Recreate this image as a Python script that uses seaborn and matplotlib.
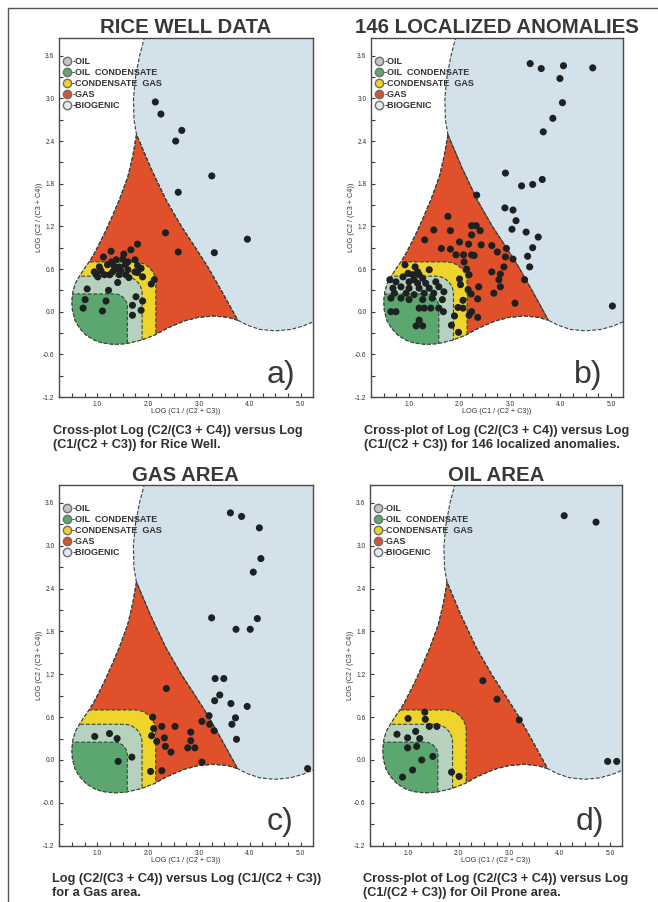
import numpy as np
import pandas as pd
import matplotlib
matplotlib.use("Agg")
import matplotlib.pyplot as plt
from matplotlib.patches import Polygon
from matplotlib.lines import Line2D
from matplotlib.ticker import MultipleLocator
import seaborn as sns

# ---------------- sample data: x = LOG(C1/(C2+C3)), y = LOG(C2/(C3+C4)) ----------------
rice_x = [2.14, 2.25, 2.66, 2.54, 3.25, 2.59, 2.34, 3.95, 2.59, 3.30,
          1.79, 1.66, 1.27, 1.52, 1.12, 1.37, 1.50, 1.74, 1.60, 1.79, 1.86,
          1.04, 1.20, 1.33, 1.43, 0.94, 1.07, 1.30, 1.46, 1.60, 1.01, 1.14,
          1.24, 1.43, 1.56, 1.74, 1.89, 1.40, 2.12, 2.06, 1.79,
          1.35, 1.55, 1.28, 1.62, 0.98,
          0.80, 1.22, 0.76, 1.17, 0.72, 1.10, 1.76, 1.89, 1.69, 1.86, 1.69]
rice_y = [2.95, 2.78, 2.55, 2.40, 1.91, 1.68, 1.11, 1.02, 0.84, 0.83,
          0.95, 0.87, 0.85, 0.81, 0.77, 0.73, 0.74, 0.73, 0.70, 0.65, 0.61,
          0.63, 0.66, 0.64, 0.63, 0.56, 0.58, 0.56, 0.58, 0.59, 0.49, 0.52,
          0.52, 0.52, 0.52, 0.56, 0.49, 0.41, 0.45, 0.39, 0.55,
          0.60, 0.66, 0.70, 0.48, 0.52,
          0.32, 0.30, 0.17, 0.15, 0.05, 0.01, 0.21, 0.15, 0.09, 0.02, -0.05]

anom_x = [3.40, 3.62, 4.06, 4.64, 3.99, 4.04, 3.85, 3.66,
          2.91, 3.23, 3.45, 3.64, 2.90, 3.06, 3.12, 3.04, 3.32, 3.56, 3.45, 3.35, 3.39, 3.29, 5.03,
          2.64, 2.75, 2.93, 2.91, 3.06, 2.88, 2.64, 2.81, 2.78, 2.81, 2.68, 3.10,
          2.34, 1.77, 1.49, 1.82, 1.31, 2.24, 2.33, 2.41, 2.24, 2.00, 2.18, 2.43,
          1.64, 1.82, 1.93, 2.08, 2.24, 2.29, 2.09, 2.14, 2.19, 2.00, 2.02, 2.17,
          2.38, 2.23, 2.36, 2.07, 1.97, 2.07, 2.24, 2.19, 2.36, 1.90, 1.84, 1.98,
          0.92, 1.12, 0.98, 1.40, 1.17, 0.88, 1.07, 1.20, 1.27, 1.10, 1.00, 1.17,
          1.33, 1.53, 0.74, 0.84, 0.68, 1.00, 1.20, 1.40, 1.59, 0.71, 0.94, 1.10,
          1.30, 1.49, 1.69, 0.64, 0.84, 1.00, 1.27, 1.46, 1.66, 0.64, 0.74, 1.20,
          1.30, 1.43, 1.59, 1.20, 1.27, 1.14, 0.62, 1.68]
anom_y = [3.49, 3.42, 3.46, 3.43, 3.28, 2.94, 2.72, 2.53,
          1.95, 1.77, 1.79, 1.86, 1.46, 1.43, 1.28, 1.16, 1.12, 1.05, 0.90, 0.78, 0.63, 0.45, 0.08,
          0.93, 0.84, 0.89, 0.77, 0.74, 0.63, 0.56, 0.53, 0.45, 0.35, 0.26, 0.12,
          1.64, 1.34, 1.15, 1.14, 1.01, 1.21, 1.21, 1.14, 1.08, 0.98, 0.95, 0.94,
          0.89, 0.88, 0.80, 0.80, 0.80, 0.79, 0.70, 0.60, 0.52, 0.46, 0.38, 0.31,
          0.35, 0.25, 0.18, 0.16, 0.06, 0.05, 0.00, -0.05, -0.08, -0.06, -0.19, -0.29,
          0.66, 0.63, 0.54, 0.59, 0.56, 0.49, 0.52, 0.52, 0.47, 0.45, 0.42, 0.40,
          0.40, 0.42, 0.42, 0.35, 0.33, 0.33, 0.33, 0.33, 0.35, 0.26, 0.26, 0.24,
          0.26, 0.26, 0.28, 0.19, 0.19, 0.17, 0.17, 0.19, 0.17, 0.00, 0.00, 0.05,
          0.05, 0.05, 0.05, -0.12, -0.20, -0.20, 0.45, 0.00]

gas_x = [3.62, 3.84, 4.19, 4.22, 4.07, 3.25, 4.15, 3.73, 4.01, 3.32, 3.49,
         3.41, 3.31, 3.63, 3.95, 3.72, 3.65, 3.74, 3.20, 3.21, 3.30, 3.06,
         3.06, 5.14, 2.36, 2.09, 2.11, 2.27, 2.53, 2.07, 2.32, 2.17, 2.34,
         2.45, 2.78, 2.92, 2.84, 2.84, 2.05, 2.27, 0.95, 1.24, 1.39, 1.68, 1.41]
gas_y = [3.46, 3.41, 3.25, 2.82, 2.63, 1.99, 1.98, 1.83, 1.83, 1.14, 1.14,
         0.91, 0.83, 0.79, 0.75, 0.59, 0.50, 0.29, 0.62, 0.50, 0.41, 0.54,
         -0.03, -0.12, 1.00, 0.60, 0.44, 0.47, 0.47, 0.34, 0.31, 0.26, 0.19,
         0.11, 0.17, 0.17, 0.27, 0.39, -0.16, -0.15, 0.33, 0.37, 0.30, 0.04, -0.02]

oil_x = [4.09, 4.72, 2.48, 2.76, 3.20, 4.95, 5.13, 1.33, 1.34, 1.00, 1.42, 1.57,
         0.78, 1.15, 0.99, 1.23, 0.99, 1.17, 1.49, 1.27, 1.09, 0.89, 1.86, 2.01]
oil_y = [3.42, 3.33, 1.11, 0.85, 0.56, -0.02, -0.02, 0.67, 0.57, 0.58, 0.47, 0.47,
         0.36, 0.40, 0.31, 0.30, 0.17, 0.19, 0.05, 0.00, -0.14, -0.24, -0.17, -0.23]

# ---------------- classification zones ----------------
zone_names = ["OIL", "OIL  CONDENSATE", "CONDENSATE  GAS", "GAS", "BIOGENIC"]

# outline of the gas / condensate / oil envelope
envelope_x = [1.77, 1.70, 1.60, 1.43, 1.28, 1.14, 1.02, 0.94, 0.84, 0.74, 0.65,
              0.57, 0.52, 0.50, 0.51, 0.56, 0.65, 0.78, 0.94, 1.10, 1.33, 1.56,
              1.86, 2.12, 2.38, 2.71, 2.98, 3.30, 3.57, 3.76,
              3.45, 3.17, 2.90, 2.65, 2.35, 2.05]
envelope_y = [2.49, 2.20, 1.90, 1.57, 1.32, 1.10, 0.93, 0.82, 0.70, 0.60, 0.50,
              0.40, 0.28, 0.15, 0.02, -0.12, -0.23, -0.33, -0.40, -0.44, -0.46, -0.45,
              -0.40, -0.33, -0.23, -0.13, -0.08, -0.06, -0.08, -0.12,
              0.28, 0.63, 0.93, 1.20, 1.57, 2.02]

# biogenic field (open to the top and right)
biogenic_x = [1.96, 1.83, 1.75, 1.71, 1.72, 1.77, 2.05, 2.35, 2.65, 2.90, 3.17,
              3.45, 3.76, 3.95, 4.20, 4.50, 4.80, 5.05, 5.35, 5.35]
biogenic_y = [3.95, 3.60, 3.30, 3.00, 2.70, 2.49, 2.02, 1.57, 1.20, 0.93, 0.63,
              0.28, -0.12, -0.19, -0.25, -0.27, -0.25, -0.20, -0.11, 3.95]

# nested rounded fields: right edge, top edge, corner radius (px)
inner_right = [2.15, 1.88, 1.59]
inner_top = [0.70, 0.50, 0.25]
inner_corner_px = [21, 18, 13]

# ---------------- styling ----------------
C_BIO = "#d3e1ea"
C_GAS = "#e0502b"
C_CGAS = "#efd42c"
C_OIL = "#b6d2bf"
C_OCOND = "#5ca76f"
legend_colors = ["#bccbc0", "#5caa6a", "#f2d22a", "#e0502b", "#e3eaee"]
EDGE = "#34463c"
TXT = "#383838"
DOT = "#1d2121"

sns.set_theme(style="white")
plt.rcParams["font.family"] = ["Liberation Sans", "DejaVu Sans"]

W, H = 658, 902
fig = plt.figure(figsize=(W / 100, H / 100), dpi=100)
fig.patch.set_facecolor("white")

PX_X = 50.7   # px per x unit
PX_Y = 71.2   # px per y unit


def rounded_zone(xr, yt, r_px):
    rx, ry = r_px / PX_X, r_px / PX_Y
    a = np.linspace(np.pi / 2, 0, 24)
    cx, cy = xr - rx, yt - ry
    xs = np.concatenate([[-2.0, -2.0], cx + rx * np.cos(a), [xr]])
    ys = np.concatenate([[-3.0, yt], cy + ry * np.sin(a), [-3.0]])
    return np.column_stack([xs, ys])


def draw_panel(rect, xs, ys, title, title_pad, letter, letter_pos):
    ax = fig.add_axes(rect)
    ax.set_xlim(0.24, 5.24)
    ax.set_ylim(-1.2, 3.85)
    ax.set_facecolor("white")

    dash = (0, (3.5, 1.6))
    bio = Polygon(np.column_stack([biogenic_x, biogenic_y]), closed=True,
                  facecolor=C_BIO, edgecolor=EDGE, lw=0.8, ls=dash, zorder=1)
    ax.add_patch(bio)
    env = Polygon(np.column_stack([envelope_x, envelope_y]), closed=True,
                  facecolor=C_GAS, edgecolor=EDGE, lw=0.8, ls=dash, zorder=2)
    ax.add_patch(env)
    for (xr, yt, r), col in zip(zip(inner_right, inner_top, inner_corner_px),
                                [C_CGAS, C_OIL, C_OCOND]):
        p = Polygon(rounded_zone(xr, yt, r), closed=True, facecolor=col,
                    edgecolor=EDGE, lw=0.8, ls=dash, zorder=3)
        ax.add_patch(p)
        p.set_clip_path(env)
    # redraw envelope outline on top of inner fields
    outline = Polygon(np.column_stack([envelope_x, envelope_y]), closed=True,
                      facecolor="none", edgecolor=EDGE, lw=0.8, ls=dash, zorder=4)
    ax.add_patch(outline)

    df = pd.DataFrame({"x": xs, "y": ys})
    sns.scatterplot(data=df, x="x", y="y", ax=ax, color=DOT, s=26,
                    edgecolor="none", legend=False, zorder=6)

    ax.xaxis.set_major_locator(MultipleLocator(1.0))
    ax.xaxis.set_minor_locator(MultipleLocator(0.25))
    ax.yaxis.set_major_locator(MultipleLocator(0.6))
    ax.yaxis.set_minor_locator(MultipleLocator(0.3))
    ax.set_xticks([1, 2, 3, 4, 5])
    ax.set_xticklabels(["1.0", "2.0", "3.0", "4.0", "5.0"])
    yt = [-1.2, -0.6, 0.0, 0.6, 1.2, 1.8, 2.4, 3.0, 3.6]
    ax.set_yticks(yt)
    ax.set_yticklabels([f"{v:.1f}" for v in yt])
    ax.tick_params(which="both", direction="in", length=3.2, width=0.8,
                   color="#3a3a3a", bottom=True, left=True, top=False, right=False)
    ax.tick_params(axis="x", labelsize=4.8, pad=3.0, labelcolor="#333333")
    ax.tick_params(axis="y", labelsize=4.8, pad=3.0, labelcolor="#333333")
    for s in ax.spines.values():
        s.set_color("#4a4a4a")
        s.set_linewidth(1.0)
        s.set_zorder(8)

    ax.set_xlabel("LOG (C1 / (C2 + C3))", fontsize=5.2, color="#333333")
    ax.set_ylabel("LOG (C2 / (C3 + C4))", fontsize=5.2, color="#333333")
    ax.xaxis.set_label_coords(0.5, -0.03)
    ax.yaxis.set_label_coords(-0.062, 0.5)

    ax.set_title(title, fontsize=14.7, fontweight="bold", color=TXT, pad=title_pad)
    ax.text(letter_pos[0], letter_pos[1], letter, transform=ax.transAxes,
            ha="right", va="baseline", fontsize=23, color=TXT, zorder=9)

    handles = [Line2D([], [], ls="", marker="o", markersize=6.0,
                      markerfacecolor=c, markeredgecolor="#6e6e6e", markeredgewidth=1.0)
               for c in legend_colors]
    leg = ax.legend(handles, ["-" + n for n in zone_names], loc="upper left",
                    bbox_to_anchor=(0.015, 0.948), frameon=False, fontsize=6.5,
                    handlelength=0.95, handletextpad=0.12, labelspacing=0.24,
                    borderpad=0.0, borderaxespad=0.0)
    for t in leg.get_texts():
        t.set_color("#333333")
        t.set_fontweight("bold")
    leg.set_zorder(9)
    return ax


def fx(px):
    return px / W


def fy(py):
    return 1 - py / H


top_row = [fy(397), fy(38) - fy(397)]
bot_row = [fy(845.7), fy(485) - fy(845.7)]

draw_panel([fx(58.7), top_row[0], fx(313) - fx(58.7), top_row[1]],
           rice_x, rice_y, "RICE WELL DATA", 3.6, "a)", (0.93, 0.04))
draw_panel([fx(370.7), top_row[0], fx(623) - fx(370.7), top_row[1]],
           anom_x, anom_y, "146 LOCALIZED ANOMALIES", 3.6, "b)", (0.92, 0.04))
draw_panel([fx(58.7), bot_row[0], fx(312.7) - fx(58.7), bot_row[1]],
           gas_x, gas_y, "GAS AREA", 3.1, "c)", (0.922, 0.044))
draw_panel([fx(369.7), bot_row[0], fx(622.3) - fx(369.7), bot_row[1]],
           oil_x, oil_y, "OIL AREA", 3.1, "d)", (0.927, 0.044))

# captions
cap = dict(fontsize=9.2, fontweight="bold", color="#2e2e2e", ha="left", va="baseline")
fig.text(fx(53), fy(434), "Cross-plot Log (C2/(C3 + C4)) versus Log", **cap)
fig.text(fx(53), fy(448), "(C1/(C2 + C3)) for Rice Well.", **cap)
fig.text(fx(364), fy(434), "Cross-plot of Log (C2/(C3 + C4)) versus Log", **cap)
fig.text(fx(364), fy(448), "(C1/(C2 + C3)) for 146 localized anomalies.", **cap)
fig.text(fx(52), fy(881.7), "Log (C2/(C3 + C4)) versus Log (C1/(C2 + C3))", **cap)
fig.text(fx(52), fy(896), "for a Gas area.", **cap)
fig.text(fx(363), fy(881.7), "Cross-plot of Log (C2/(C3 + C4)) versus Log", **cap)
fig.text(fx(363), fy(896), "(C1/(C2 + C3)) for Oil Prone area.", **cap)

# page frame
fig.add_artist(Line2D([fx(7.5), fx(7.5)], [fy(8.3), 0], color="#555555", lw=1.0))
fig.add_artist(Line2D([fx(7.5), 1.0], [fy(8.3), fy(8.3)], color="#555555", lw=1.0))

fig.savefig("out.png", dpi=100, facecolor="white")
